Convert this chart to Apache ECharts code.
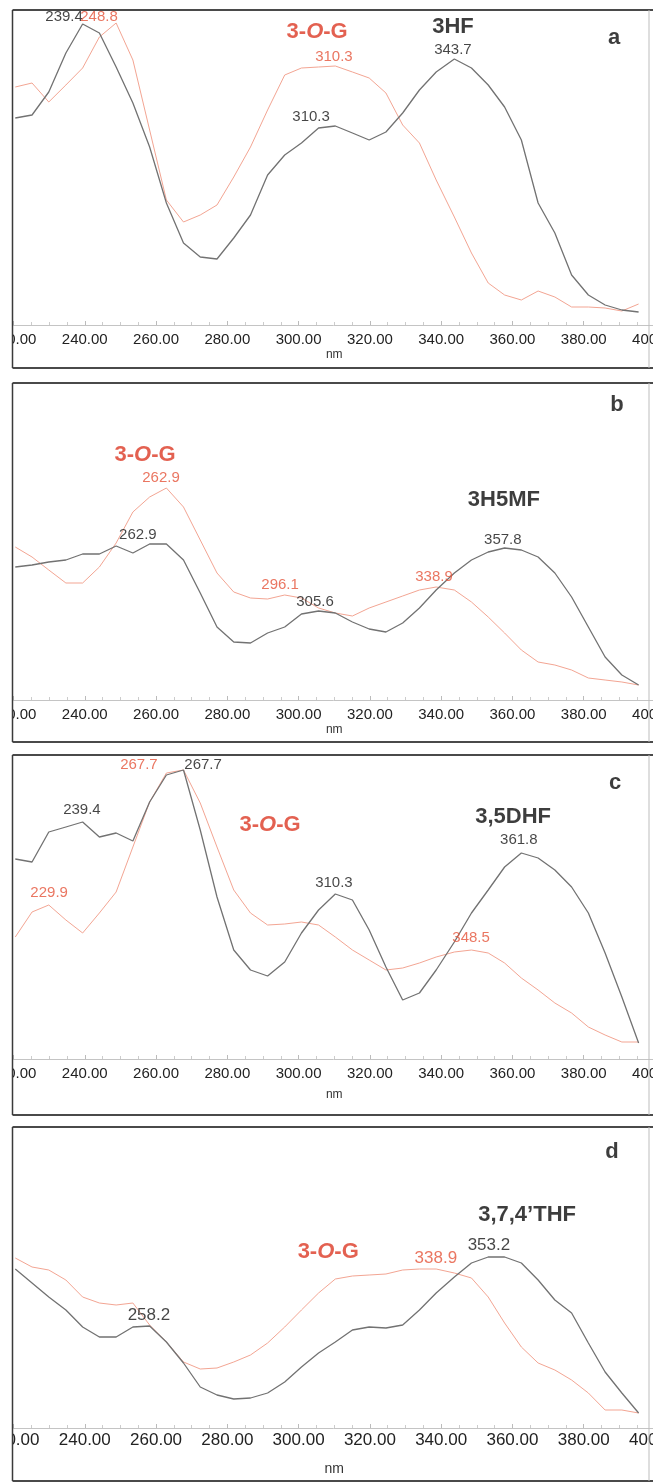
<!DOCTYPE html>
<html><head><meta charset="utf-8">
<script src="https://cdn.jsdelivr.net/npm/echarts@6/dist/echarts.min.js"></script>
<style>html,body{margin:0;padding:0;background:#fff}#c{width:653px;height:1482px}</style>
</head><body><div id="c"></div>
<script>
// Wavelength grid (nm)
const wavelengths = [220.5,225.2,229.9,234.7,239.4,244.1,248.8,253.5,258.2,262.9,267.7,272.4,277.1,281.8,286.5,291.3,296.1,300.8,305.6,310.3,315.1,319.8,324.5,329.2,333.9,338.6,343.7,348.5,353.2,357.8,362.5,367.2,371.9,376.6,381.3,386.0,390.7,395.4];
const xTicks = [220,240,260,280,300,320,340,360,380,400];

// Relative absorbance (mAU, arbitrary per panel)
const aParent = [207,210,233,272,301,292,258,222,178,122,82,68,66,87,110,150,170,182,197,199,192,185,193,212,235,253,266,257,240,218,185,122,92,50,30,20,15,13];
const aGluc   = [238,242,223,240,257,288,302,265,195,125,103,110,120,148,178,215,250,257,258,259,253,247,232,200,182,145,108,72,42,30,25,34,28,18,18,17,14,21];
const bParent = [133,135,138,140,146,146,154,147,156,156,140,107,73,58,57,67,73,86,89,87,78,71,68,77,92,110,127,140,148,152,150,143,127,103,73,43,25,15];
const bGluc   = [153,143,130,117,117,133,157,188,203,212,193,160,127,108,102,101,105,102,92,87,84,92,98,104,110,113,110,98,83,67,50,38,35,30,22,20,18,15];
const cParent = [200,197,227,232,237,222,226,218,257,284,289,229,162,109,89,83,97,126,149,165,159,129,92,59,66,89,117,146,169,192,206,201,189,172,146,106,62,16];
const cGluc   = [122,147,154,139,126,146,167,212,257,286,289,256,212,169,146,134,135,137,134,122,109,99,89,91,96,102,107,109,106,96,81,69,56,46,32,24,17,17];
const dParent = [159,145,131,118,101,91,91,101,102,86,65,41,33,29,30,35,46,61,75,86,98,101,100,103,118,135,151,165,171,171,165,148,128,115,85,56,35,15];
const dGluc   = [170,161,158,148,131,125,123,125,103,86,66,59,60,66,73,85,101,118,135,149,152,153,154,158,159,159,155,150,131,105,81,65,58,48,35,18,18,15];

// Annotations: [text, nm, value, kind]  kind: k=black number, r=red number, K=black title, R=red title, L=panel letter
const aNotes = [["239.4",234.2,308,"k"],["248.8",244.0,308,"r"],["3-O-G",305.2,293,"R"],["3HF",343.3,298,"K"],["a",388.5,287,"L"],["310.3",309.9,268,"r"],["343.7",343.3,275,"k"],["310.3",303.5,208,"k"]];
const bNotes = [["b",389.3,295,"L"],["3-O-G",256.9,245,"R"],["262.9",261.4,222,"r"],["3H5MF",357.6,200,"K"],["262.9",254.9,165,"k"],["357.8",357.3,160,"k"],["296.1",294.8,115,"r"],["338.9",338.0,123,"r"],["305.6",304.6,98,"k"]];
const cNotes = [["c",388.8,276,"L"],["267.7",255.2,294,"r"],["267.7",273.2,294,"k"],["239.4",239.2,249,"k"],["3-O-G",292.0,234,"R"],["3,5DHF",360.2,242,"K"],["361.8",361.8,219,"k"],["229.9",230.0,166,"r"],["310.3",309.9,176,"k"],["348.5",348.4,121,"r"]];
const dNotes = [["d",387.9,276,"L"],["3,7,4\u2019THF",364.1,213,"K"],["3-O-G",308.3,176,"R"],["338.9",338.5,170,"r"],["353.2",353.4,183,"k"],["258.2",258.0,113,"k"]];

const panels = [
  {parent:aParent, gluc:aGluc, notes:aNotes, top:10,  height:315, frameBottom:368, fs:15, nameGap:24},
  {parent:bParent, gluc:bGluc, notes:bNotes, top:383, height:317, frameBottom:742, fs:15, nameGap:24},
  {parent:cParent, gluc:cGluc, notes:cNotes, top:755, height:304, frameBottom:1115, fs:15, nameGap:30},
  {parent:dParent, gluc:dGluc, notes:dNotes, top:1127,height:301, frameBottom:1481, fs:17, nameGap:34}
];

const FONT = '"Liberation Sans", Arial, Helvetica, sans-serif';
const BLACK_LINE = '#727272', RED_LINE = '#f3a593', RED_TXT = '#e5543a', RED_TITLE = '#dc3a26';

const grids = [], xAxes = [], yAxes = [], series = [], graphics = [];
graphics.push({type:'rect', shape:{x:0,y:0,width:12,height:1482}, style:{fill:'#fff'}, z:99});
panels.forEach((p, i) => {
  grids.push({left:13.5, width:641.5, top:p.top, height:p.height, containLabel:false, outerBoundsMode:'none'});
  xAxes.push({type:'value', gridIndex:i, min:xTicks[0], max:xTicks[xTicks.length-1], interval:20,
    name:'nm', nameLocation:'middle', nameGap:p.nameGap,
    nameTextStyle:{fontFamily:FONT, fontSize:p.fs-3, color:'#333'},
    axisLine:{show:true, lineStyle:{color:'#c4c4c4', width:1}},
    axisTick:{show:true, inside:true, length:4, lineStyle:{color:'#bbb'}},
    minorTick:{show:true, splitNumber:4, length:3, lineStyle:{color:'#ccc'}},
    splitLine:{show:false},
    axisLabel:{fontFamily:FONT, fontSize:p.fs, color:'#222', margin:i===3?4:7, formatter:v=>v.toFixed(2), showMinLabel:true, showMaxLabel:true, hideOverlap:false}
  });
  yAxes.push({type:'value', gridIndex:i, min:0, max:p.height, show:false});
  series.push({type:'line', xAxisIndex:i, yAxisIndex:i, data:wavelengths.map((w,k)=>[w,p.gluc[k]]),
    showSymbol:false, lineStyle:{color:RED_LINE, width:1}, silent:true, z:2});
  series.push({type:'line', xAxisIndex:i, yAxisIndex:i, data:wavelengths.map((w,k)=>[w,p.parent[k]]),
    showSymbol:false, lineStyle:{color:BLACK_LINE, width:1.3}, silent:true, z:3});
  const big = i===3 ? 1.15 : 1;
  series.push({type:'scatter', xAxisIndex:i, yAxisIndex:i, symbolSize:0, silent:true, z:5,
    data:p.notes.map(n => {
      const kind = n[3];
      let lab;
      if (kind==='k' || kind==='r') {
        lab = {fontSize:Math.round(15*big), color: kind==='k' ? '#161616' : RED_TXT, fontWeight:'normal'};
      } else if (kind==='K') {
        lab = {fontSize:22, color:'#0c0c0c', fontWeight:'bold'};
      } else if (kind==='L') {
        lab = {fontSize:22, color:'#0c0c0c', fontWeight:'bold'};
      } else {
        lab = {formatter:'{a|3-}{b|O}{a|-G}', rich:{a:{fontSize:22,fontWeight:'bold',color:RED_TITLE,fontFamily:FONT}, b:{fontSize:22,fontWeight:'bold',fontStyle:'italic',color:RED_TITLE,fontFamily:FONT}}};
      }
      return {value:[n[1], n[2]], label:Object.assign({show:true, position:[0,0], align:'center', verticalAlign:'middle', fontFamily:FONT, formatter:n[0]}, lab)};
    })
  });
  const frameTop = p.top;
  graphics.push({type:'line', shape:{x1:12.5,y1:frameTop,x2:653,y2:frameTop}, style:{stroke:'#4a4a4a', lineWidth:2}, z:100});
  graphics.push({type:'line', shape:{x1:12.5,y1:p.frameBottom,x2:653,y2:p.frameBottom}, style:{stroke:'#4a4a4a', lineWidth:2}, z:100});
  graphics.push({type:'line', shape:{x1:12.5,y1:frameTop,x2:12.5,y2:p.frameBottom}, style:{stroke:'#3a3a3a', lineWidth:1.5}, z:101});
  graphics.push({type:'line', shape:{x1:649,y1:frameTop,x2:649,y2:p.frameBottom}, style:{stroke:'#bdbdbd', lineWidth:1}, z:100});
});

const chart = echarts.init(document.getElementById('c'), null, {renderer:'canvas'});
chart.setOption({animation:false, backgroundColor:'#fff', grid:grids, xAxis:xAxes, yAxis:yAxes, series:series, graphic:graphics});
</script></body></html>
